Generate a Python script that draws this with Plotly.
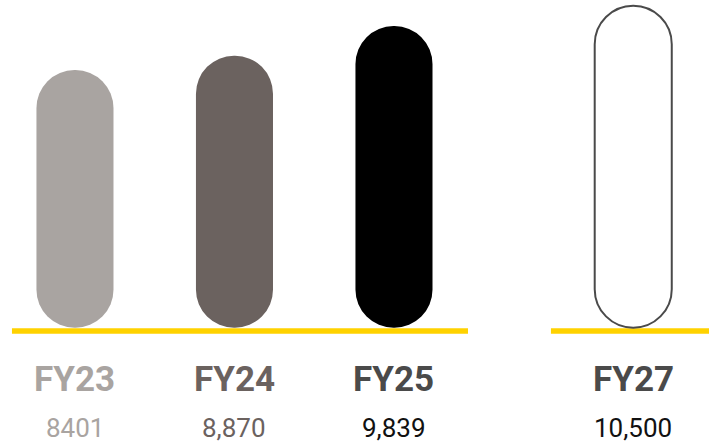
import plotly.graph_objects as go

# ---- data ----
categories = ["FY23", "FY24", "FY25", "FY27"]
values = [8401, 8870, 9839, 10500]
value_labels = ["8401", "8,870", "9,839", "10,500"]

# ---- styling / layout ----
x_pos = [0, 1, 2, 3.5]
bar_fill = ["#A9A4A1", "#6B625F", "#000000", "#FFFFFF"]
bar_line_w = [0, 0, 0, 2]
bar_line_c = ["#A9A4A1", "#6B625F", "#000000", "#4A4A4A"]
cat_colors = ["#A9A4A1", "#6B625F", "#4A4A4A", "#4A4A4A"]
val_colors = ["#A9A4A1", "#6B625F", "#111111", "#111111"]
YELLOW = "#FFD200"
BAR_W = 0.483

fig = go.Figure()

# pill-shaped bars: an explicit base makes plotly round both ends
fig.add_trace(go.Bar(
    x=x_pos, y=values, base=[0] * len(values),
    width=BAR_W, marker=dict(color=bar_fill, cornerradius="50%",
                             line=dict(width=bar_line_w, color=bar_line_c)),
    hoverinfo="skip"))

# yellow baselines
segments = [(-0.395, 2.464), (2.984, 4.2)]
for x0, x1 in segments:
    fig.add_shape(type="rect", xref="x", yref="y", x0=x0, x1=x1,
                  ysizemode="pixel", yanchor=0, y0=-6, y1=-0.5,
                  fillcolor=YELLOW, line=dict(width=0), layer="below")

# labels
for xp, cat, val, cc, vc in zip(x_pos, categories, value_labels, cat_colors, val_colors):
    fig.add_annotation(x=xp, y=0, xref="x", yref="y", text=f"<b>{cat}</b>",
                       showarrow=False, yanchor="middle", yshift=-52,
                       font=dict(family="Roboto", size=35, color=cc, weight=900))
    fig.add_annotation(x=xp, y=0, xref="x", yref="y", text=val,
                       showarrow=False, yanchor="middle", yshift=-100,
                       font=dict(family="Roboto", size=26, color=vc))

fig.update_layout(
    width=709, height=443,
    margin=dict(l=0, r=0, t=0, b=0),
    paper_bgcolor="white", plot_bgcolor="white",
    showlegend=False,
    xaxis=dict(range=[-0.470, 3.975], visible=False, fixedrange=True),
    yaxis=dict(range=[-3761, 10688], visible=False, fixedrange=True),
)

fig.write_html("out.html", config={"displayModeBar": False},
               post_script="document.body.style.margin='0';")
